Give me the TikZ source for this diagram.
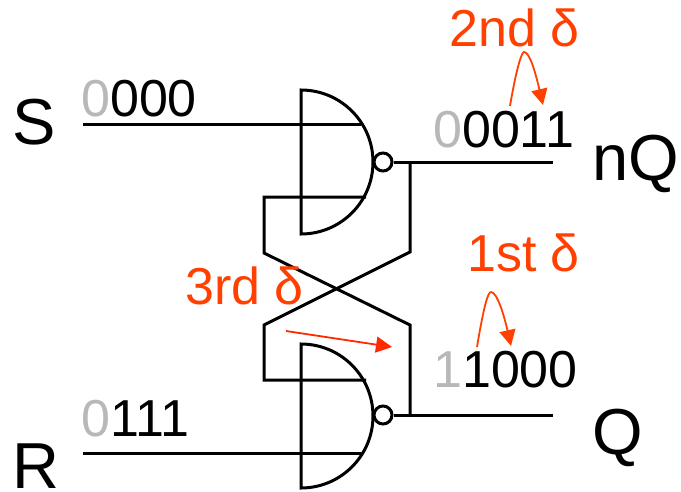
\documentclass[tikz,border=0pt]{standalone}
\usepackage{fontspec}
\setmainfont{Liberation Sans}
\usetikzlibrary{arrows.meta}
\definecolor{deltaorange}{HTML}{FF4000}
\definecolor{deltared}{HTML}{FF2A00}
\definecolor{heldgray}{HTML}{B8B8B8}
\tikzset{
  wire/.style={line width=3pt,line join=miter},
  bubble/.style={circle,draw,line width=3pt,minimum size=18pt,inner sep=0pt},
  lbl/.style={anchor=base west,inner sep=0pt,font=\fontsize{52}{52}\selectfont},
  pin/.style={anchor=base west,inner sep=0pt,font=\fontsize{65}{65}\selectfont},
  dlbl/.style={lbl,text=deltaorange},
  hop/.style={draw=deltaorange,line width=1.8pt,-{Triangle[length=16pt,width=16pt]}}
}
\begin{document}
\begin{tikzpicture}[x=1pt,y=-1pt]
  \useasboundingbox (0,0) rectangle (681,491);
  \coordinate(S)at(83,124);\coordinate(R)at(83,453);
  \coordinate(SI)at(361,124);\coordinate(RI)at(361,453);
  \coordinate(TF)at(366,197);\coordinate(BF)at(366,380);
  \coordinate(TL)at(264,197);\coordinate(TK)at(264,253);
  \coordinate(BL)at(264,380);\coordinate(BK)at(264,325);
  \coordinate(TJ)at(410,162);\coordinate(TR)at(410,252);
  \coordinate(BJ)at(410,415);\coordinate(BR)at(410,325);
  \coordinate(NQ)at(553,162);\coordinate(Q)at(553,415);
  % gates
  \draw[wire](301,90) arc[start angle=-90,end angle=90,radius=72]--cycle;
  \draw[wire](301,344) arc[start angle=-90,end angle=90,radius=72]--cycle;
  \node[bubble](TB)at(383,162){};
  \node[bubble](BB)at(383,415){};
  % wires
  \draw[wire](S)--(SI) (R)--(RI);
  \draw[wire](TB)--(NQ) (BB)--(Q);
  \draw[wire](TF)--(TL)--(TK)--(BR)--(BJ);
  \draw[wire](BF)--(BL)--(BK)--(TR)--(TJ);
  % labels
  \foreach \N/\X/\Y/\T in{sS/12/144/S, sR/12/488/R, sNQ/592/180/nQ, sQ/592/454/Q}{
    \node[pin](\N)at(\X,\Y){\T};
  }
  \node[lbl](vS)at(81,116){\textcolor{heldgray}{0}000};
  \node[lbl](vR)at(81,436){\textcolor{heldgray}{0}111};
  \node[lbl](vNQ)at(433,147){\textcolor{heldgray}{0}0011};
  \node[lbl](vQ)at(433,387){\textcolor{heldgray}{1}1000};
  \node[dlbl](dB)at(449,46){2nd δ};
  \node[dlbl](dA)at(467,271){1st δ};
  \node[dlbl](dC)at(185,304){3rd δ};
  % hops
  \coordinate(AS)at(477,347);\coordinate(AE)at(511,346);
  \coordinate(BS)at(510,106);\coordinate(BE)at(543,105);
  \coordinate(CS)at(286,331);\coordinate(CE)at(392,347);
  \draw[hop](BS)..controls(517,65)and(522,52)..(524,52)..controls(530,52)and(536,75)..(BE);
  \draw[hop](AS)..controls(484,305)and(488,292)..(491,292)..controls(497,292)and(504,315)..(AE);
  \draw[draw=deltared,line width=1.8pt,-{Triangle[length=16pt,width=16pt]}](CS)--(CE);
\end{tikzpicture}
\end{document}
